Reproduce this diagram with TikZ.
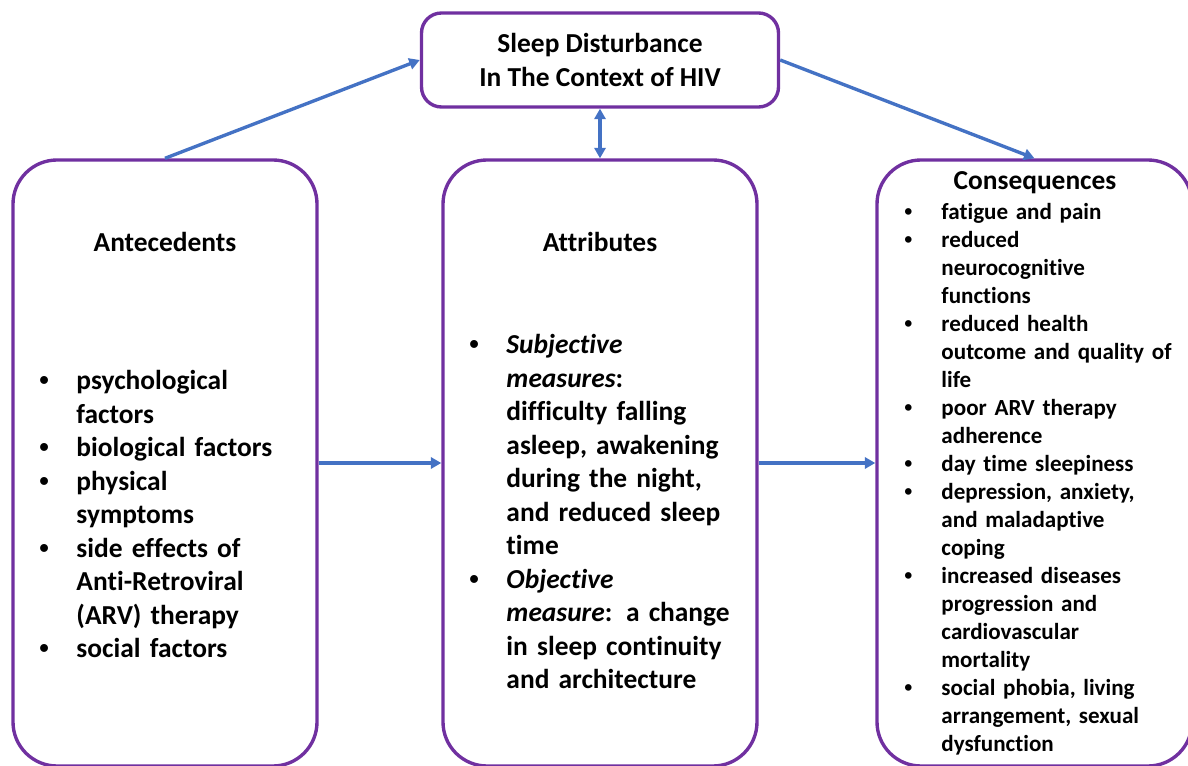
\documentclass[tikz,border=0pt]{standalone}
\usepackage{fontspec}
\setmainfont{Carlito}[Ligatures=NoCommon]
\newfontfamily\bulletfont{Liberation Sans}
\usepackage{xcolor}
\usepackage{tikz}
\usetikzlibrary{arrows.meta, positioning}
\definecolor{boxPurple}{RGB}{112,48,160}
\definecolor{linkBlue}{RGB}{68,114,196}

\newlength{\bulletind}
\setlength{\bulletind}{0.93cm}
\newcommand{\bitem}[1]{\noindent\hangindent=\bulletind\hangafter=1%
  \hbox to\bulletind{{\bulletfont\textbullet}\hfil}{\let\\\newline#1}\par}

\begin{document}
\begin{tikzpicture}[
    panel/.style={draw=boxPurple,line width=2.4pt,rounded corners=1.1cm,fill=white,
      minimum width=7.6cm,minimum height=15.15cm},
    concept/.style={draw=boxPurple,line width=2.4pt,rounded corners=0.5cm,fill=white,
      minimum width=8.925cm,minimum height=2.35cm,align=center,
      font=\fontsize{19.5}{23.8}\selectfont\bfseries},
    head/.style={anchor=base,inner sep=0pt,font=\fontsize{19.5}{23.8}\selectfont\bfseries},
    biglist/.style={anchor=base west,inner sep=0pt,text width=7cm,align=left,
      font=\fontsize{19.5}{23.8}\selectfont\bfseries},
    smalllist/.style={anchor=base west,inner sep=0pt,text width=7cm,align=left,
      font=\fontsize{16.4}{19.9}\selectfont\bfseries},
    arrow/.style={-{Triangle[length=7.5pt,width=8pt]},line width=2.4pt,linkBlue},
    biarrow/.style={arrow,{Triangle[length=7.5pt,width=8pt]}-{Triangle[length=7.5pt,width=8pt]}}
  ]
  \useasboundingbox (0,0) rectangle (29.7,-19.15);

  % Concept
  \node[concept] (sleep) at (15,-1.5) {Sleep Disturbance\\In The Context of HIV};

  % Antecedents
  \node[panel] (ante) at (4.125,-11.575) {};
  \node[head] (anteHead) at (4.125,-6.3) {Antecedents};
  \node[biglist] (anteList) at (0.975,-9.75) {%
    \bitem{psychological\\factors}
    \bitem{biological factors}
    \bitem{physical\\symptoms}
    \bitem{side effects of\\Anti-Retroviral\\(ARV) therapy}
    \bitem{social factors}
  };

  % Attributes
  \node[panel,minimum width=7.85cm] (attr) at (15,-11.575) {};
  \node[head] (attrHead) at (15,-6.3) {Attributes};
  \node[biglist] (attrList) at (11.725,-8.85) {%
    \bitem{\textit{Subjective}\\\textit{measures}:\\difficulty falling\\asleep, awakening\\during the night,\\and reduced sleep\\time}
    \bitem{\textit{Objective}\\\textit{measure}: a change\\in sleep continuity\\and architecture}
  };

  % Consequences
  \node[panel,minimum width=7.875cm] (cons) at (25.8625,-11.575) {};
  \node[head] (consHead) at (25.875,-4.75) {Consequences};
  \node[smalllist] (consList) at (22.6,-5.5) {%
    \bitem{fatigue and pain}
    \bitem{reduced\\neurocognitive\\functions}
    \bitem{reduced health\\outcome and quality of\\life}
    \bitem{poor ARV therapy\\adherence}
    \bitem{day time sleepiness}
    \bitem{depression, anxiety,\\and maladaptive\\coping}
    \bitem{increased diseases\\progression and\\cardiovascular\\mortality}
    \bitem{social phobia, living\\arrangement, sexual\\dysfunction}
  };

  % links
  \draw[arrow] (ante.north) -- (sleep.west);
  \draw[arrow] (sleep.east) -- (cons.north);
  \draw[biarrow] (sleep.south) -- (attr.north);
  \draw[arrow] (ante) -- (attr);
  \draw[arrow] (attr) -- (cons);
\end{tikzpicture}
\end{document}
